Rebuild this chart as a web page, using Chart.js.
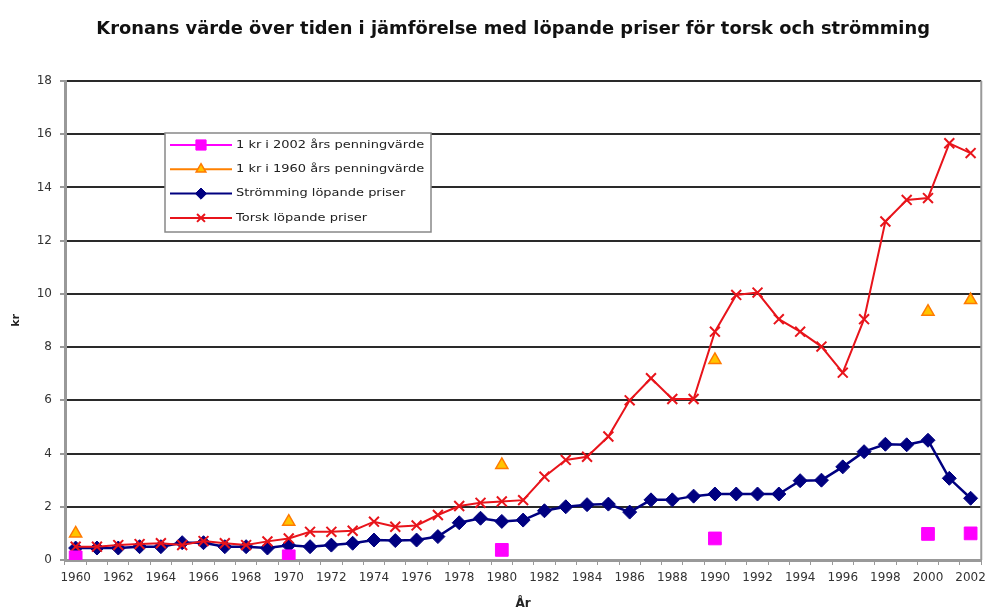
<!DOCTYPE html>
<html lang="sv">
<head>
<meta charset="utf-8">
<title>Kronans värde över tiden</title>
<script src="https://cdn.jsdelivr.net/npm/chart.js@4/dist/chart.umd.min.js"></script>
<style>
  html, body { margin: 0; padding: 0; background: #fff; }
  #wrap { width: 992px; height: 611px; }
</style>
</head>
<body>
<div id="wrap"><canvas id="canvas" width="992" height="611"></canvas></div>
<script>
"use strict";

const chartTitle = "Kronans värde över tiden i jämförelse med löpande priser för torsk och strömming";

const years = [
  "1960", "1961", "1962", "1963", "1964", "1965", "1966", "1967", "1968", "1969",
  "1970", "1971", "1972", "1973", "1974", "1975", "1976", "1977", "1978", "1979",
  "1980", "1981", "1982", "1983", "1984", "1985", "1986", "1987", "1988", "1989",
  "1990", "1991", "1992", "1993", "1994", "1995", "1996", "1997", "1998", "1999",
  "2000", "2001", "2002"
];

// strömming, kr per kg, löpande priser
const stromming = [
  0.45, 0.45, 0.45, 0.5, 0.5, 0.65, 0.65, 0.5, 0.5, 0.45,
  0.55, 0.5, 0.56, 0.63, 0.75, 0.73, 0.75, 0.88, 1.4, 1.57,
  1.45, 1.5, 1.85, 2.0, 2.08, 2.1, 1.8, 2.26, 2.26, 2.4,
  2.48, 2.48, 2.48, 2.48, 2.98, 3.0, 3.5, 4.07, 4.35, 4.33,
  4.5, 3.07, 2.32
];

// torsk, kr per kg, löpande priser
const torsk = [
  0.5, 0.5, 0.56, 0.6, 0.63, 0.56, 0.71, 0.63, 0.56, 0.7,
  0.81, 1.06, 1.06, 1.1, 1.44, 1.25, 1.3, 1.69, 2.03, 2.15,
  2.2, 2.25, 3.13, 3.76, 3.88, 4.64, 6.0, 6.83, 6.05, 6.05,
  8.58, 9.96, 10.05, 9.05, 8.58, 8.02, 7.04, 9.05, 12.72, 13.53,
  13.6, 15.66, 15.29
];

// enstaka år for penningvärdet
const valueYears = ["1960", "1970", "1980", "1990", "2000", "2002"];
const krona2002 = [0.1, 0.14, 0.38, 0.81, 0.98, 1.0];
const krona1960 = [1.0, 1.44, 3.57, 7.52, 9.33, 9.77];

const FONT = "'DejaVu Sans', Verdana, sans-serif";

function pairUp(xs, ys) {
  return xs.map((x, i) => ({ x: x, y: ys[i] }));
}

// text som dras ut lite på bredden
function wideText(ctx, text, x, y, sx) {
  ctx.save();
  ctx.translate(x, y);
  ctx.scale(sx, 1);
  ctx.fillText(text, 0, 0);
  ctx.restore();
}

// titel ovanför diagramytan och förklaringsruta inne i ytan
const decorPlugin = {
  id: "decor",
  afterDraw(chart) {
    const ctx = chart.ctx;
    const area = chart.chartArea;

    ctx.save();
    ctx.fillStyle = "#111";
    ctx.font = "bold 17px " + FONT;
    ctx.textAlign = "center";
    ctx.textBaseline = "middle";
    wideText(ctx, chartTitle, (area.left + area.right) / 2 - 10, 30, 1.05);

    // ramen till höger
    ctx.strokeStyle = "#999";
    ctx.lineWidth = 2;
    ctx.beginPath();
    ctx.moveTo(area.right, area.top);
    ctx.lineTo(area.right, area.bottom);
    ctx.stroke();

    const bx = area.left + 100, by = area.top + 52, bw = 266, bh = 99;
    ctx.fillStyle = "#fff";
    ctx.fillRect(bx, by, bw, bh);
    ctx.strokeStyle = "#888";
    ctx.lineWidth = 1.5;
    ctx.strokeRect(bx, by, bw, bh);

    ctx.font = "11px " + FONT;
    ctx.textAlign = "left";
    chart.data.datasets.forEach((ds, row) => {
      const y = by + 12 + row * 24.3;
      ctx.strokeStyle = ds.legendLine;
      ctx.lineWidth = 2;
      ctx.beginPath();
      ctx.moveTo(bx + 5, y);
      ctx.lineTo(bx + 67, y);
      ctx.stroke();
      ctx.fillStyle = ds.pointBackgroundColor;
      ctx.strokeStyle = ds.pointBorderColor;
      ctx.lineWidth = ds.pointBorderWidth || 1;
      Chart.helpers.drawPoint(ctx, {
        pointStyle: ds.pointStyle,
        radius: ds.pointRadius * 0.8,
        borderWidth: ds.pointBorderWidth || 1
      }, bx + 36, y);
      ctx.fillStyle = "#222";
      wideText(ctx, ds.label, bx + 71, y, 1.18);
    });
    ctx.restore();
  }
};

const ctx = document.getElementById("canvas").getContext("2d");

new Chart(ctx, {
  type: "line",
  data: {
    labels: years,
    datasets: [
      {
        label: "1 kr i 2002 års penningvärde",
        data: pairUp(valueYears, krona2002),
        showLine: false,
        legendLine: "#ff00ff",
        borderColor: "#ff00ff",
        pointStyle: "rect",
        pointRadius: 9,
        pointBorderWidth: 1,
        pointBackgroundColor: "#ff00ff",
        pointBorderColor: "#ff00ff",
        order: 0
      },
      {
        label: "1 kr i 1960 års penningvärde",
        data: pairUp(valueYears, krona1960),
        showLine: false,
        legendLine: "#ff8000",
        borderColor: "#ff8000",
        pointStyle: "triangle",
        pointRadius: 7,
        pointBorderWidth: 1.5,
        pointBackgroundColor: "#ffc400",
        pointBorderColor: "#ff7a00",
        order: 1
      },
      {
        label: "Strömming löpande priser",
        data: stromming,
        legendLine: "#000080",
        borderColor: "#000080",
        borderWidth: 2.5,
        pointStyle: "rectRot",
        pointRadius: 7,
        pointBorderWidth: 1,
        pointBackgroundColor: "#000080",
        pointBorderColor: "#000080",
        tension: 0,
        order: 3
      },
      {
        label: "Torsk löpande priser",
        data: torsk,
        legendLine: "#e8141b",
        borderColor: "#e8141b",
        borderWidth: 2,
        pointStyle: "crossRot",
        pointRadius: 7,
        pointBorderWidth: 2,
        pointBackgroundColor: "#e8141b",
        pointBorderColor: "#e8141b",
        tension: 0,
        order: 2
      }
    ]
  },
  options: {
    responsive: false,
    animation: false,
    layout: { padding: { top: 81, right: 7, left: 0, bottom: 0 } },
    plugins: {
      legend: { display: false },
      title: { display: false },
      tooltip: { enabled: false }
    },
    scales: {
      x: {
        type: "category",
        offset: true,
        afterFit(scale) { scale.height = 51; },
        grid: {
          drawOnChartArea: false,
          drawTicks: true,
          tickLength: 5,
          color: "#999",
          offset: true
        },
        border: { color: "#999", width: 3 },
        ticks: {
          autoSkip: false,
          maxRotation: 0,
          padding: 6,
          color: "#333",
          font: { family: FONT, size: 12 },
          callback(value, index) {
            return index % 2 === 0 ? years[index] : "";
          }
        },
        title: {
          display: true,
          text: "År",
          color: "#222",
          font: { family: FONT, size: 12, weight: "bold" },
          padding: { top: 0, bottom: 0 }
        }
      },
      y: {
        min: 0,
        max: 18,
        afterFit(scale) { scale.width = 65; },
        grid: {
          color: "#2a2a2a",
          lineWidth: 2,
          tickLength: 5,
          tickColor: "#999"
        },
        border: { color: "#999", width: 3 },
        ticks: {
          stepSize: 2,
          padding: 8,
          color: "#333",
          font: { family: FONT, size: 12 }
        },
        title: {
          display: true,
          text: "kr",
          color: "#222",
          font: { family: FONT, size: 11, weight: "bold" },
          padding: { top: 10, bottom: 0 }
        }
      }
    }
  },
  plugins: [decorPlugin]
});
</script>
</body>
</html>
